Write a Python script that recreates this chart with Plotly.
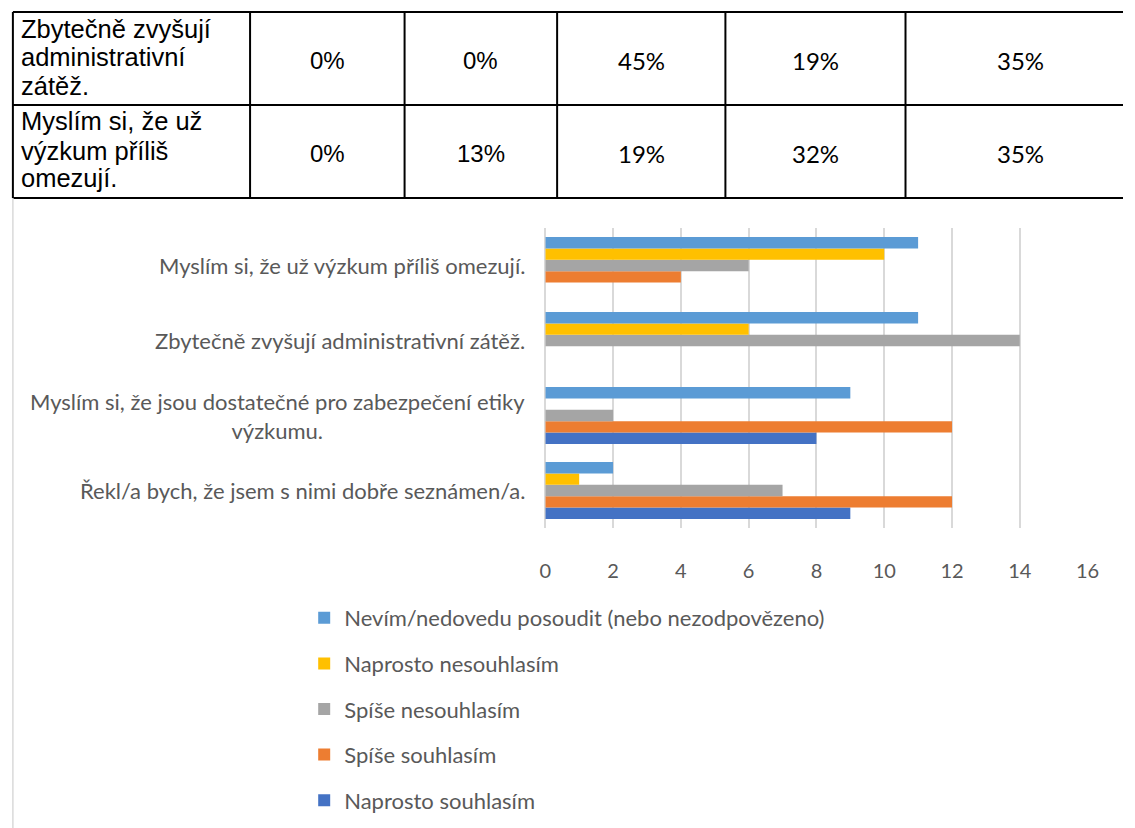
import plotly.graph_objects as go

W, H = 1135, 828

# ---------------- data ----------------
categories = [
    "Řekl/a bych, že jsem s nimi dobře seznámen/a.",
    "Myslím si, že jsou dostatečné pro zabezpečení etiky<br>výzkumu.",
    "Zbytečně zvyšují administrativní zátěž.",
    "Myslím si, že už výzkum příliš omezují.",
]
series_names = [
    "Naprosto souhlasím",
    "Spíše souhlasím",
    "Spíše nesouhlasím",
    "Naprosto nesouhlasím",
    "Nevím/nedovedu posoudit (nebo nezodpovězeno)",
]
naprosto_souhlasim = [9, 8, 0, 0]
spise_souhlasim = [12, 12, 0, 4]
spise_nesouhlasim = [7, 2, 14, 6]
naprosto_nesouhlasim = [1, 0, 6, 10]
nevim = [2, 9, 11, 11]
series_values = [naprosto_souhlasim, spise_souhlasim, spise_nesouhlasim,
                 naprosto_nesouhlasim, nevim]
series_colors = ["#4472C4", "#ED7D31", "#A5A5A5", "#FFC000", "#5B9BD5"]

x_tickvals = [0, 2, 4, 6, 8, 10, 12, 14, 16]

table_row_labels = [
    ["Zbytečně zvyšují", "administrativní", "zátěž."],
    ["Myslím si, že už", "výzkum příliš", "omezují."],
]
table_col_1 = ["0%", "0%"]
table_col_2 = ["0%", "13%"]
table_col_3 = ["45%", "19%"]
table_col_4 = ["19%", "32%"]
table_col_5 = ["35%", "35%"]
table_values = [table_col_1, table_col_2, table_col_3, table_col_4, table_col_5]

# ---------------- layout helpers ----------------
def px(x):
    return x / W


def py(y):
    return 1 - y / H


PLOT_L, PLOT_R, PLOT_T, PLOT_B = 548, 1099, 228, 528
CHART_FONT = "Lato, 'Open Sans', sans-serif"
ARIAL = "'Liberation Sans', Arial, sans-serif"
TXT = "#595959"

fig = go.Figure()
n = len(series_names)
for i, (name, vals, col) in enumerate(zip(series_names, series_values, series_colors)):
    fig.add_trace(go.Bar(
        y=categories, x=vals, name=name, orientation="h",
        marker=dict(color=col, line=dict(width=0)),
        legendgroup=name, legendrank=n - i,
    ))

shapes = []
annotations = []

# category labels (centred multi-line, right-anchored next to the axis)
for cat in categories:
    annotations.append(dict(
        x=px(PLOT_L - 19), xref="paper", xanchor="right",
        y=cat, yref="y", yanchor="middle",
        text=cat, showarrow=False, align="center",
        font=dict(family=CHART_FONT, size=22, color=TXT),
    ))

# ---------------- table (top) ----------------
col_edges = [7, 248, 405, 560, 731, 914, 1148]
row_edges = [12, 105, 198]
for yy in row_edges:
    shapes.append(dict(type="line", xref="paper", yref="paper",
                       x0=px(col_edges[0]), x1=1.0, y0=py(yy), y1=py(yy),
                       line=dict(color="black", width=2)))
for xx in col_edges[:-1]:
    shapes.append(dict(type="line", xref="paper", yref="paper",
                       x0=px(xx), x1=px(xx), y0=py(row_edges[0]), y1=py(row_edges[-1]),
                       line=dict(color="black", width=2)))

line_offsets = [-30, -1, 27]
for r, lines in enumerate(table_row_labels):
    yc = (row_edges[r] + row_edges[r + 1]) / 2
    for k, line in enumerate(lines):
        annotations.append(dict(
            x=px(13), xref="paper", xanchor="left",
            y=py(yc + line_offsets[k]), yref="paper", yanchor="middle",
            text=line, showarrow=False, align="left",
            font=dict(family=ARIAL, size=25.5, color="black"),
        ))
    for c, colvals in enumerate(table_values):
        xc = (col_edges[c + 1] + col_edges[c + 2]) / 2
        if c < 2:
            fnt = dict(family=ARIAL, size=24, color="black")
        else:
            fnt = dict(family=CHART_FONT, size=24, color="black")
        annotations.append(dict(
            x=px(xc), xref="paper", xanchor="center",
            y=py(yc + 2), yref="paper", yanchor="middle",
            text=colvals[r], showarrow=False, font=fnt,
        ))

# chart frame left border
shapes.append(dict(type="line", xref="paper", yref="paper",
                   x0=px(7), x1=px(7), y0=py(198), y1=0,
                   line=dict(color="#D9D9D9", width=1.5)))

fig.update_layout(
    width=W, height=H,
    margin=dict(l=0, r=0, t=0, b=0, pad=0),
    paper_bgcolor="white", plot_bgcolor="white",
    barmode="group", bargap=0.24, bargroupgap=0,
    showlegend=True,
    legend=dict(
        x=px(303), y=py(597), xanchor="left", yanchor="top",
        traceorder="grouped", tracegroupgap=14,
        font=dict(family=CHART_FONT, size=22, color=TXT),
        bgcolor="rgba(0,0,0,0)",
    ),
    xaxis=dict(
        domain=[px(PLOT_L), px(PLOT_R)],
        range=[0, 16], tickvals=x_tickvals,
        showgrid=True, gridcolor="#D9D9D9", gridwidth=1.5,
        zeroline=True, zerolinecolor="#D9D9D9", zerolinewidth=1.5,
        showline=False, ticks="", ticklabelstandoff=29,
        tickfont=dict(family=CHART_FONT, size=20, color=TXT),
        fixedrange=True,
    ),
    yaxis=dict(
        domain=[py(PLOT_B), py(PLOT_T)],
        type="category", categoryorder="array", categoryarray=categories,
        range=[-0.5, 3.5],
        showticklabels=False, showgrid=False, zeroline=False, showline=False,
        fixedrange=True,
    ),
    shapes=shapes,
    annotations=annotations,
)

post = (
    "document.documentElement.style.margin='0';"
    "document.body.style.margin='0';"
    "document.documentElement.style.overflow='hidden';"
    "document.body.style.overflow='hidden';"
)

fig.write_html("out.html", config={"displayModeBar": False}, post_script=post)
